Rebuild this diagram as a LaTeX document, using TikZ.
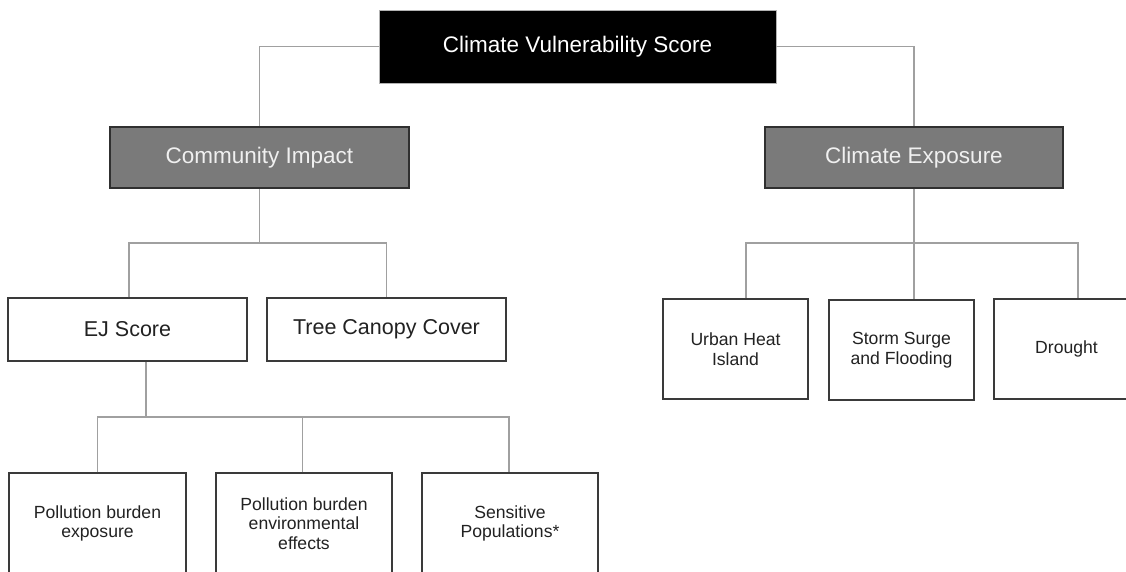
\documentclass[tikz,border=0pt]{standalone}
\usepackage{fontspec}
\setmainfont{Liberation Sans}
\definecolor{connc}{HTML}{A0A0A0}
\definecolor{midfill}{HTML}{7A7A7A}
\definecolor{midborder}{HTML}{303030}
\definecolor{midtext}{HTML}{F0F0F0}
\definecolor{leafborder}{HTML}{3A3A3A}
\definecolor{leaftext}{HTML}{222222}
\begin{document}
\begin{tikzpicture}[x=1pt,y=-1pt,
  conn/.style={draw=connc, line width=1.3pt},
  boxbase/.style={rectangle, inner sep=0pt, anchor=center},
  topbox/.style={boxbase, fill=black, draw=gray!60, line width=0.8pt, text=white,
    font=\fontsize{22.5}{26}\selectfont, minimum width=397pt, minimum height=73pt},
  midbox/.style={boxbase, fill=midfill, draw=midborder, line width=1.5pt, text=midtext,
    font=\fontsize{22.5}{26}\selectfont, minimum height=61pt},
  levelbox/.style={boxbase, fill=white, draw=leafborder, line width=1.5pt, text=leaftext,
    font=\fontsize{21.5}{25}\selectfont, minimum width=239pt, minimum height=63pt},
  leafbox/.style={boxbase, fill=white, draw=leafborder, line width=1.5pt, text=leaftext,
    align=center, font=\fontsize{17.6}{19.8}\selectfont}
]
\fill[white] (0,0) rectangle (1126,571);
\useasboundingbox (0,0) rectangle (1126,571);

\node[topbox] (top) at (577.5,46.5) {Climate Vulnerability Score};
\node[midbox, minimum width=299pt] (ci) at (259.5,157.5) {Community Impact};
\node[midbox, minimum width=298pt] (ce) at (914,157.5) {Climate Exposure};

\node[levelbox] (ej) at (127.5,329.5) {EJ Score};
\node[levelbox] (tree) at (386.5,329.5) {Tree Canopy Cover};

\node[leafbox, minimum width=177pt, minimum height=101pt] (p1) at (97.5,523.5) {Pollution burden\\exposure};
\node[leafbox, minimum width=176pt, minimum height=101pt] (p2) at (304,523.5) {Pollution burden\\environmental\\effects};
\node[leafbox, minimum width=176pt, minimum height=101pt] (p3) at (510,523.5) {Sensitive\\Populations*};

\node[leafbox, minimum width=145pt, minimum height=100pt] (urban) at (735.5,349) {Urban Heat\\Island};
\node[leafbox, minimum width=145pt, minimum height=100pt] (storm) at (901.5,350) {Storm Surge\\and Flooding};
\node[leafbox, minimum width=145pt, minimum height=100pt] (drought) at (1066.5,349) {Drought};

% connectors
\draw[conn] (top.west) -| (ci.north);
\draw[conn] (top.east) -| (ce.north);

\coordinate (j1) at (ci.south |- 0,243);
\draw[conn] (ci.south) -- (j1);
\draw[conn] ([xshift=1.5pt]ej.north) |- (j1) -| (tree.north);

\coordinate (j2) at (146,417);
\draw[conn] (ej.south -| j2) -- (j2);
\draw[conn] (p1.north) |- (j2) -| ([xshift=-1pt]p3.north);
\draw[conn] ([xshift=-1.5pt]p2.north) -- ([xshift=-1.5pt]p2.north |- j2);

\coordinate (j3) at (ce.south |- 0,243);
\draw[conn] (ce.south) -- (ce.south |- storm.north);
\draw[conn] ([xshift=10.5pt]urban.north) |- (j3) -| ([xshift=11.5pt]drought.north);
\end{tikzpicture}
\end{document}
